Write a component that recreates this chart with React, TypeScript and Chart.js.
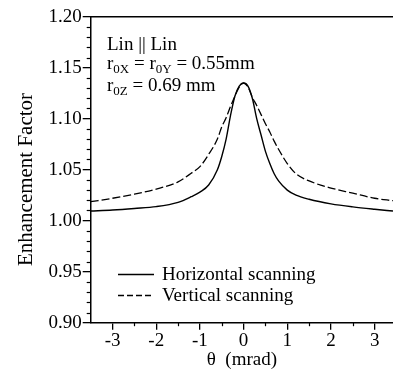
import React, { useEffect, useRef } from "react";
import { Chart, registerables } from "chart.js";

Chart.register(...registerables);

const theta = [-3.5, -3, -2.5, -2, -1.5, -1.2, -1, -0.8, -0.6, -0.5, -0.4, -0.3, -0.2, -0.1, 0, 0.1, 0.2, 0.3, 0.4, 0.5, 0.6, 0.7, 0.8, 1, 1.2, 1.5, 2, 2.5, 3, 3.42];
const horizontal = [1.0095, 1.0105, 1.012, 1.0138, 1.018, 1.0235, 1.028, 1.035, 1.05, 1.063, 1.08, 1.103, 1.122, 1.132, 1.135, 1.132, 1.12, 1.1, 1.084, 1.068, 1.056, 1.046, 1.039, 1.03, 1.025, 1.021, 1.0165, 1.0135, 1.0112, 1.0095];
const vertical = [1.0186, 1.022, 1.026, 1.031, 1.038, 1.0465, 1.053, 1.065, 1.08, 1.092, 1.101, 1.112, 1.122, 1.131, 1.135, 1.131, 1.121, 1.113, 1.104, 1.095, 1.087, 1.078, 1.07, 1.056, 1.046, 1.039, 1.032, 1.027, 1.022, 1.0196];
const xTicks = [-3, -2, -1, 0, 1, 2, 3];
const yTicks = [0.9, 0.95, 1.0, 1.05, 1.1, 1.15, 1.2];
const xMinorTicks = [-2.5, -1.5, -0.5, 0.5, 1.5, 2.5];
const seriesLabels = ["Horizontal scanning", "Vertical scanning"];
const yTitle = "Enhancement Factor";
const xTitle = "\u03b8  (mrad)";

const FONT = "'Liberation Serif', 'Times New Roman', serif";

const extras = {
  id: "extras",
  afterDraw(chart: any) {
    const { ctx, chartArea } = chart;
    const { left, right, top, bottom } = chartArea;
    const ys = chart.scales.y;
    const xs = chart.scales.x;
    ctx.save();
    ctx.strokeStyle = "#000";
    ctx.fillStyle = "#000";
    ctx.lineWidth = 1.5;
    ctx.beginPath();
    ctx.moveTo(left, top);
    ctx.lineTo(right, top);
    ctx.stroke();
    ctx.lineWidth = 1.2;
    for (let i = 0; i < yTicks.length - 1; i++) {
      for (let k = 1; k < 5; k++) {
        const v = yTicks[i] + (k * (yTicks[i + 1] - yTicks[i])) / 5;
        const py = Math.round(ys.getPixelForValue(v)) + 0.5;
        ctx.beginPath();
        ctx.moveTo(left - 4, py);
        ctx.lineTo(left, py);
        ctx.stroke();
      }
    }
    for (const v of xMinorTicks) {
      const px = Math.round(xs.getPixelForValue(v)) + 0.5;
      ctx.beginPath();
      ctx.moveTo(px, bottom);
      ctx.lineTo(px, bottom + 3.5);
      ctx.stroke();
    }
    ctx.save();
    ctx.font = `21px ${FONT}`;
    ctx.textAlign = "center";
    ctx.textBaseline = "alphabetic";
    ctx.translate(32, 179.5);
    ctx.rotate(-Math.PI / 2);
    ctx.fillText(yTitle, 0, 0);
    ctx.restore();
    const main = `19px ${FONT}`;
    const sub = `13px ${FONT}`;
    ctx.textAlign = "left";
    ctx.textBaseline = "alphabetic";
    ctx.font = main;
    ctx.fillText("Lin || Lin", 107, 50);
    const drawRich = (parts: [string, boolean][], x: number, y: number) => {
      let cx = x;
      for (const [t, isSub] of parts) {
        ctx.font = isSub ? sub : main;
        ctx.fillText(t, cx, isSub ? y + 4 : y);
        cx += ctx.measureText(t).width;
      }
    };
    drawRich([["r", false], ["0X", true], [" = r", false], ["0Y", true], [" = 0.55mm", false]], 107, 69);
    drawRich([["r", false], ["0Z", true], [" = 0.69 mm", false]], 107, 91);
    ctx.font = main;
    ctx.lineWidth = 1.3;
    ctx.beginPath();
    ctx.moveTo(118, 274.5);
    ctx.lineTo(154, 274.5);
    ctx.stroke();
    ctx.setLineDash([6, 3]);
    ctx.beginPath();
    ctx.moveTo(118, 295.5);
    ctx.lineTo(154, 295.5);
    ctx.stroke();
    ctx.setLineDash([]);
    ctx.fillText(seriesLabels[0], 162, 280);
    ctx.fillText(seriesLabels[1], 162, 300.5);
    ctx.restore();
  },
};

export default function App() {
  const ref = useRef<HTMLCanvasElement | null>(null);
  useEffect(() => {
    document.body.style.margin = "0";
    const canvas = ref.current;
    if (!canvas) return;
    const chart = new Chart(canvas, {
      type: "line",
      data: {
        datasets: [
          {
            label: seriesLabels[0],
            data: theta.map((t, i) => ({ x: t, y: horizontal[i] })),
            borderColor: "#000",
            borderWidth: 1.4,
            pointRadius: 0,
            cubicInterpolationMode: "monotone",
            fill: false,
          },
          {
            label: seriesLabels[1],
            data: theta.map((t, i) => ({ x: t, y: vertical[i] })),
            borderColor: "#000",
            borderWidth: 1.3,
            borderDash: [8, 3],
            pointRadius: 0,
            cubicInterpolationMode: "monotone",
            fill: false,
          },
        ],
      },
      options: {
        animation: false,
        responsive: true,
        maintainAspectRatio: false,
        layout: { padding: { top: 16.7, right: 0, left: 0, bottom: 0 } },
        plugins: { legend: { display: false }, tooltip: { enabled: false } },
        scales: {
          x: {
            type: "linear",
            min: -3.5,
            max: 3.42,
            afterBuildTicks: (s: any) => {
              s.ticks = xTicks.map((v) => ({ value: v }));
            },
            afterFit: (s: any) => {
              s.height = 56.3;
            },
            ticks: {
              font: { family: FONT, size: 19 },
              color: "#000",
              padding: 0,
              maxRotation: 0,
              callback: (v: any) => (v < 0 ? "-" + Math.abs(v) : String(v)),
            },
            grid: { drawOnChartArea: false, drawTicks: true, tickLength: 7, color: "#000", lineWidth: 1.3 },
            border: { display: true, color: "#000", width: 1.5 },
            title: { display: true, text: xTitle, font: { family: FONT, size: 19 }, color: "#000", padding: { top: 0, bottom: 8 } },
          },
          y: {
            type: "linear",
            min: 0.9,
            max: 1.2,
            afterBuildTicks: (s: any) => {
              s.ticks = yTicks.map((v) => ({ value: v }));
            },
            afterFit: (s: any) => {
              s.width = 90.7;
            },
            ticks: {
              font: { family: FONT, size: 19 },
              color: "#000",
              padding: 1,
              callback: (v: any) => Number(v).toFixed(2),
            },
            grid: { drawOnChartArea: false, drawTicks: true, tickLength: 8, color: "#000", lineWidth: 1.3 },
            border: { display: true, color: "#000", width: 1.5 },
          },
        },
      },
      plugins: [extras],
    });
    return () => chart.destroy();
  }, []);
  return (
    <div style={{ width: 393, height: 379, position: "relative" }}>
      <canvas ref={ref} />
    </div>
  );
}
